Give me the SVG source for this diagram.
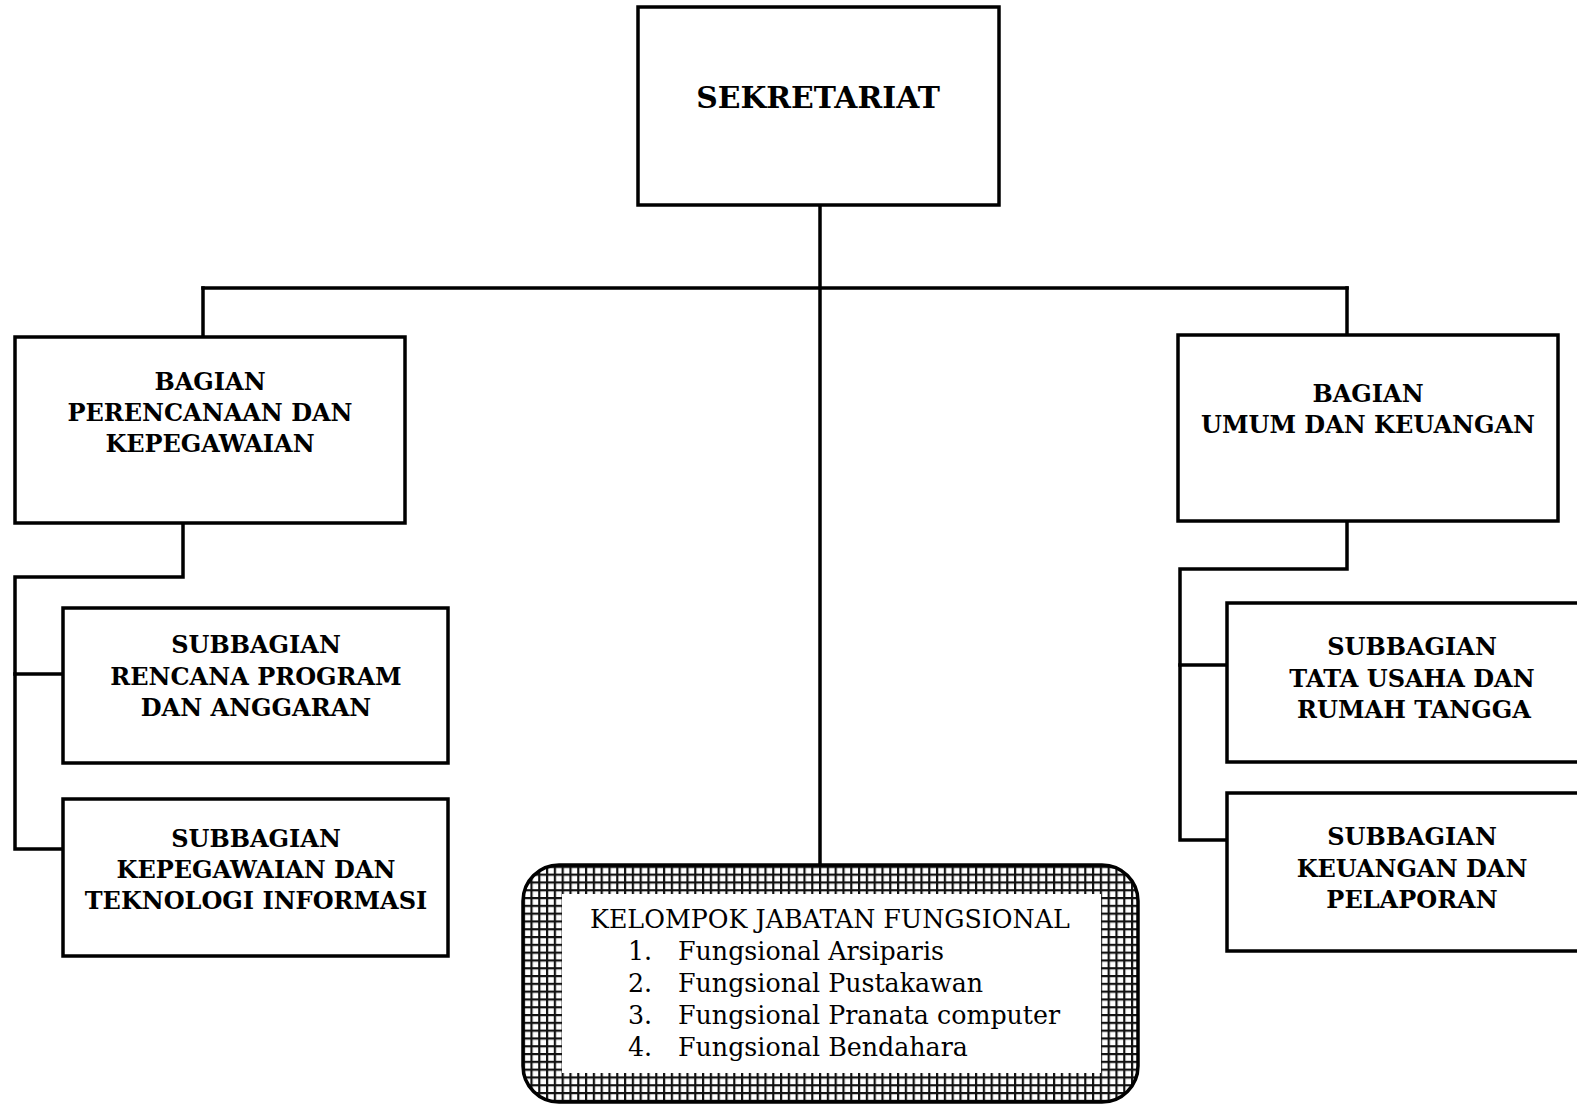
<svg xmlns="http://www.w3.org/2000/svg" width="1577" height="1104" viewBox="0 0 1577 1104">
<style>
.box{fill:#fff;stroke:#000;stroke-width:3.5}
.ln{fill:none;stroke:#000;stroke-width:3.5;stroke-linecap:square}
.b{font-family:"DejaVu Serif",serif;font-weight:bold;font-size:24px;fill:#000;text-anchor:middle}
.r{font-family:"DejaVu Serif",serif;font-size:25.3px;fill:#000}
</style>
<defs>
<pattern id="grid" width="7.8" height="7.8" patternUnits="userSpaceOnUse">
<rect width="7.8" height="7.8" fill="#fff"/>
<rect x="0" y="0" width="2.2" height="7.8" fill="#111"/>
<rect x="0" y="0" width="7.8" height="2.2" fill="#111"/>
</pattern>
</defs>
<rect width="1577" height="1104" fill="#fff"/>
<g id="connectors">
<path class="ln" d="M820 205 V865"/>
<path class="ln" d="M203 288 H1347"/>
<path class="ln" d="M203 288 V337"/>
<path class="ln" d="M1347 288 V335"/>
<path class="ln" d="M183 523 V577 H15 V849 H63"/>
<path class="ln" d="M15 674 H63"/>
<path class="ln" d="M1347 521 V569 H1180 V840 H1227"/>
<path class="ln" d="M1180 665 H1227"/>
</g>
<g id="sekretariat">
<rect class="box" x="638" y="7" width="361" height="198"/>
<text class="b" x="818" y="108" style="font-size:29.8px">SEKRETARIAT</text>
</g>
<g id="bagian-perencanaan">
<rect class="box" x="15" y="337" width="390" height="186"/>
<text class="b" x="210" y="390">BAGIAN</text>
<text class="b" x="210" y="421">PERENCANAAN DAN</text>
<text class="b" x="210" y="452">KEPEGAWAIAN</text>
</g>
<g id="bagian-umum">
<rect class="box" x="1178" y="335" width="380" height="186"/>
<text class="b" x="1368" y="402">BAGIAN</text>
<text class="b" x="1368" y="433">UMUM DAN KEUANGAN</text>
</g>
<g id="sub-rencana">
<rect class="box" x="63" y="608" width="385" height="155"/>
<text class="b" x="256" y="653">SUBBAGIAN</text>
<text class="b" x="256" y="685">RENCANA PROGRAM</text>
<text class="b" x="256" y="716">DAN ANGGARAN</text>
</g>
<g id="sub-kepegawaian">
<rect class="box" x="63" y="799" width="385" height="157"/>
<text class="b" x="256" y="847">SUBBAGIAN</text>
<text class="b" x="256" y="878">KEPEGAWAIAN DAN</text>
<text class="b" x="256" y="909">TEKNOLOGI INFORMASI</text>
</g>
<g id="sub-tata-usaha">
<rect class="box" x="1227" y="603" width="360" height="159"/>
<text class="b" x="1412" y="655">SUBBAGIAN</text>
<text class="b" x="1412" y="687">TATA USAHA DAN</text>
<text class="b" x="1414" y="718">RUMAH TANGGA</text>
</g>
<g id="sub-keuangan">
<rect class="box" x="1227" y="793" width="360" height="158"/>
<text class="b" x="1412" y="845">SUBBAGIAN</text>
<text class="b" x="1412" y="877">KEUANGAN DAN</text>
<text class="b" x="1412" y="908">PELAPORAN</text>
</g>
<g id="kelompok-fungsional">
<rect x="523" y="865" width="615" height="237" rx="36" ry="36" fill="url(#grid)" stroke="#000" stroke-width="3.5"/>
<rect x="562" y="894" width="539" height="179" fill="#fff"/>
<text class="r" x="590" y="928">KELOMPOK JABATAN FUNGSIONAL</text>
<text class="r" x="628" y="960">1.</text><text class="r" x="678" y="960">Fungsional Arsiparis</text>
<text class="r" x="628" y="992">2.</text><text class="r" x="678" y="992">Fungsional Pustakawan</text>
<text class="r" x="628" y="1024">3.</text><text class="r" x="678" y="1024">Fungsional Pranata computer</text>
<text class="r" x="628" y="1056">4.</text><text class="r" x="678" y="1056">Fungsional Bendahara</text>
</g>
</svg>
